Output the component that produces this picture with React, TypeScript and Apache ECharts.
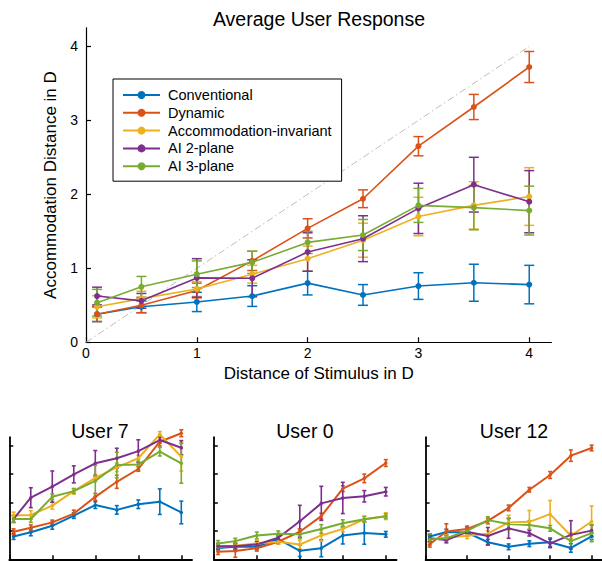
import React, { useEffect, useRef } from 'react';
import * as echarts from 'echarts';

// ---------- data ----------
const stimulus = [0.1, 0.5, 1, 1.5, 2, 2.5, 3, 3.5, 4];
const seriesNames = ['Conventional', 'Dynamic', 'Accommodation-invariant', 'AI 2-plane', 'AI 3-plane'];
const seriesColors = ['#0072BD', '#D95319', '#EDB120', '#7E2F8E', '#77AC30'];
const axisTicks = [0, 1, 2, 3, 4];
const diagonal = [[0, 0], [4, 4]];

// Average User Response
const avgConventional = [0.38, 0.48, 0.545, 0.625, 0.8, 0.64, 0.76, 0.805, 0.78];
const avgConventionalErr = [0.1, 0.08, 0.13, 0.14, 0.16, 0.14, 0.18, 0.25, 0.26];
const avgDynamic = [0.38, 0.5, 0.7, 1.1, 1.54, 1.94, 2.65, 3.18, 3.72];
const avgDynamicErr = [0.1, 0.1, 0.1, 0.13, 0.13, 0.12, 0.13, 0.17, 0.21];
const avgAccInv = [0.48, 0.59, 0.72, 0.92, 1.13, 1.38, 1.7, 1.85, 1.97];
const avgAccInvErr = [0.15, 0.1, 0.1, 0.12, 0.17, 0.23, 0.26, 0.32, 0.39];
const avgAI2 = [0.625, 0.56, 0.87, 0.865, 1.22, 1.4, 1.81, 2.13, 1.9];
const avgAI2Err = [0.12, 0.1, 0.26, 0.25, 0.26, 0.31, 0.34, 0.37, 0.42];
const avgAI3 = [0.535, 0.75, 0.92, 1.08, 1.35, 1.45, 1.85, 1.82, 1.78];
const avgAI3Err = [0.18, 0.14, 0.18, 0.15, 0.15, 0.21, 0.23, 0.3, 0.33];

// User 7
const u7Conventional = [0.8, 0.95, 1.18, 1.54, 1.91, 1.74, 1.94, 2.03, 1.65];
const u7ConventionalErr = [0.1, 0.12, 0.12, 0.1, 0.12, 0.15, 0.15, 0.45, 0.4];
const u7Dynamic = [0.97, 1.11, 1.3, 1.61, 2.2, 2.73, 3.18, 4.14, 4.44];
const u7DynamicErr = [0.1, 0.1, 0.08, 0.12, 0.12, 0.23, 0.08, 0.15, 0.12];
const u7AccInv = [1.54, 1.56, 1.89, 2.4, 2.87, 3.24, 3.56, 4.4, 3.61];
const u7AccInvErr = [0.12, 0.15, 0.12, 0.1, 0.12, 0.15, 0.1, 0.1, 0.5];
const u7AI2 = [1.42, 2.17, 2.56, 2.99, 3.38, 3.56, 3.81, 4.2, 3.93];
const u7AI2Err = [0.12, 0.35, 0.55, 0.3, 0.45, 0.35, 0.4, 0.1, 0.25];
const u7AI3 = [1.42, 1.42, 2.2, 2.4, 2.76, 3.32, 3.34, 3.79, 3.38];
const u7AI3Err = [0.12, 0.12, 0.1, 0.08, 0.55, 0.45, 0.2, 0.15, 0.7];

// User 0
const u0Conventional = [0.4, 0.44, 0.44, 0.71, 0.3, 0.39, 0.84, 0.93, 0.88];
const u0ConventionalErr = [0.1, 0.1, 0.1, 0.1, 0.2, 0.3, 0.3, 0.4, 0.1];
const u0Dynamic = [0.27, 0.29, 0.39, 0.62, 0.97, 1.52, 2.49, 2.85, 3.39];
const u0DynamicErr = [0.1, 0.22, 0.1, 0.08, 0.1, 0.1, 0.1, 0.15, 0.12];
const u0AccInv = [0.44, 0.48, 0.56, 0.62, 0.52, 0.84, 1.07, 1.41, 1.52];
const u0AccInvErr = [0.1, 0.1, 0.1, 0.08, 0.15, 0.2, 0.1, 0.1, 0.12];
const u0AI2 = [0.46, 0.46, 0.52, 0.76, 1.34, 1.97, 2.16, 2.22, 2.38];
const u0AI2Err = [0.1, 0.1, 0.1, 0.1, 0.56, 0.6, 0.55, 0.2, 0.15];
const u0AI3 = [0.56, 0.64, 0.84, 0.9, 0.88, 1.07, 1.27, 1.41, 1.52];
const u0AI3Err = [0.1, 0.1, 0.12, 0.1, 0.15, 0.15, 0.12, 0.1, 0.08];

// User 12
const u12Conventional = [0.8, 0.96, 0.94, 0.6, 0.44, 0.55, 0.6, 0.4, 0.81];
const u12ConventionalErr = [0.1, 0.1, 0.1, 0.1, 0.1, 0.1, 0.15, 0.15, 0.12];
const u12Dynamic = [0.53, 0.98, 1.07, 1.35, 1.81, 2.45, 2.97, 3.65, 3.92];
const u12DynamicErr = [0.1, 0.27, 0.1, 0.1, 0.1, 0.08, 0.12, 0.2, 0.1];
const u12AccInv = [0.71, 0.76, 0.83, 0.9, 1.3, 1.32, 1.59, 0.83, 1.33];
const u12AccInvErr = [0.1, 0.1, 0.1, 0.1, 0.25, 0.4, 0.48, 0.1, 0.55];
const u12AI2 = [0.74, 0.68, 0.97, 0.82, 1.09, 0.92, 0.56, 0.86, 1.01];
const u12AI2Err = [0.12, 0.1, 0.15, 0.3, 0.35, 0.1, 0.15, 0.5, 0.2];
const u12AI3 = [0.7, 0.74, 1.0, 1.38, 1.24, 1.21, 1.09, 0.64, 0.92];
const u12AI3Err = [0.2, 0.1, 0.1, 0.12, 0.2, 0.15, 0.1, 0.2, 0.3];

const panelTitles = ['Average User Response', 'User 7', 'User 0', 'User 12'];
const panelValues = [
  [avgConventional, avgDynamic, avgAccInv, avgAI2, avgAI3],
  [u7Conventional, u7Dynamic, u7AccInv, u7AI2, u7AI3],
  [u0Conventional, u0Dynamic, u0AccInv, u0AI2, u0AI3],
  [u12Conventional, u12Dynamic, u12AccInv, u12AI2, u12AI3],
];
const panelErrors = [
  [avgConventionalErr, avgDynamicErr, avgAccInvErr, avgAI2Err, avgAI3Err],
  [u7ConventionalErr, u7DynamicErr, u7AccInvErr, u7AI2Err, u7AI3Err],
  [u0ConventionalErr, u0DynamicErr, u0AccInvErr, u0AI2Err, u0AI3Err],
  [u12ConventionalErr, u12DynamicErr, u12AccInvErr, u12AI2Err, u12AI3Err],
];

const FONT = '"Liberation Sans", Arial, Helvetica, sans-serif';

function errorBars(panel: number, values: number[], errs: number[], color: string, cap: number, lw: number) {
  return {
    type: 'custom',
    xAxisIndex: panel,
    yAxisIndex: panel,
    silent: true,
    clip: false,
    encode: { x: 0, y: 1 },
    data: stimulus.map((x, k) => [x, values[k], errs[k]]),
    renderItem: (params: any, api: any) => {
      const x = api.value(0);
      const y = api.value(1);
      const e = api.value(2);
      const hi = api.coord([x, y + e]);
      const lo = api.coord([x, y - e]);
      const style = { stroke: color, lineWidth: lw, fill: 'none' };
      return {
        type: 'group',
        children: [
          { type: 'line', shape: { x1: hi[0], y1: hi[1], x2: lo[0], y2: lo[1] }, style },
          { type: 'line', shape: { x1: hi[0] - cap, y1: hi[1], x2: hi[0] + cap, y2: hi[1] }, style },
          { type: 'line', shape: { x1: lo[0] - cap, y1: lo[1], x2: lo[0] + cap, y2: lo[1] }, style },
        ],
      };
    },
  };
}

export default function App() {
  const ref = useRef<HTMLDivElement>(null);

  useEffect(() => {
    if (!ref.current) return;
    const chart = echarts.init(ref.current, undefined, { renderer: 'svg' });

    const grids = [
      { left: 86, top: 27.8, width: 465.4, height: 314.5 },
      { left: 9.3, top: 437.2, width: 182.75, height: 122.1 },
      { left: 213.8, top: 437.2, width: 182.75, height: 122.1 },
      { left: 425.6, top: 437.2, width: 182.75, height: 122.1 },
    ];

    const intLabel = (v: number) => (Math.abs(v - Math.round(v)) < 1e-6 ? String(Math.round(v)) : '');

    const xAxes: any[] = [];
    const yAxes: any[] = [];
    grids.forEach((g, p) => {
      const main = p === 0;
      const axisLine = { show: true, onZero: false, lineStyle: { color: '#000', width: main ? 1.2 : 1.8 } };
      const axisTick = { show: true, inside: true, length: main ? 5 : 4, customValues: axisTicks, lineStyle: { color: '#000', width: main ? 1.2 : 1.5 } };
      xAxes.push({
        type: 'value',
        gridIndex: p,
        min: 0,
        max: main ? 4.2 : 4.25,
        interval: 1,
        name: main ? 'Distance of Stimulus in D' : '',
        nameLocation: 'middle',
        nameGap: 22.5,
        nameTextStyle: { fontSize: 17, color: '#000', fontFamily: FONT },
        axisLine,
        axisTick,
        axisLabel: main
          ? { show: true, fontSize: 14, color: '#000', margin: 4, fontFamily: FONT, customValues: axisTicks, formatter: intLabel }
          : { show: false },
        splitLine: { show: false },
      });
      yAxes.push({
        type: 'value',
        gridIndex: p,
        min: 0,
        max: main ? 4.25 : 4.3,
        interval: 1,
        name: main ? 'Accommodation Distance in D' : '',
        nameLocation: 'middle',
        nameRotate: 90,
        nameGap: 22.5,
        nameTextStyle: { fontSize: 17, color: '#000', fontFamily: FONT },
        axisLine,
        axisTick,
        axisLabel: main
          ? { show: true, fontSize: 14, color: '#000', margin: 8, fontFamily: FONT, customValues: axisTicks, formatter: intLabel }
          : { show: false },
        splitLine: { show: false },
      });
    });

    const series: any[] = [];
    series.push({
      type: 'line',
      name: 'y = x',
      xAxisIndex: 0,
      yAxisIndex: 0,
      data: diagonal,
      symbol: 'none',
      silent: true,
      z: 1,
      lineStyle: { color: '#bdbdbd', width: 1, type: [7, 3, 1.5, 3] },
    });

    panelValues.forEach((vals, p) => {
      const main = p === 0;
      vals.forEach((v, i) => {
        const color = seriesColors[i];
        series.push(errorBars(p, v, panelErrors[p][i], color, main ? 5 : 2, main ? 1.5 : 1.6));
        series.push({
          type: 'line',
          name: seriesNames[i],
          xAxisIndex: p,
          yAxisIndex: p,
          data: stimulus.map((x, k) => [x, v[k]]),
          symbol: 'circle',
          symbolSize: main ? 6 : 3.5,
          clip: false,
          color,
          itemStyle: { color },
          lineStyle: { color, width: main ? 1.6 : 2 },
          emphasis: { disabled: true },
        });
      });
    });

    const titleTops = [9, 420.5, 420.5, 420.5];
    const titleCenters = [319, 100, 305, 514];

    chart.setOption({
      animation: false,
      textStyle: { fontFamily: FONT },
      title: panelTitles.map((t, p) => ({
        text: t,
        left: titleCenters[p],
        top: titleTops[p],
        textAlign: 'center',
        padding: 0,
        textStyle: { fontSize: 19.5, fontWeight: 'normal', color: '#000', fontFamily: FONT },
      })),
      legend: {
        data: seriesNames,
        left: 113,
        top: 79,
        orient: 'vertical',
        padding: [8.5, 10, 7.5, 9],
        itemWidth: 37,
        itemHeight: 10,
        itemGap: 2.8,
        borderColor: '#000',
        borderWidth: 1,
        borderRadius: 0,
        backgroundColor: '#fff',
        selectedMode: false,
        textStyle: { fontSize: 14.5, color: '#000', fontFamily: FONT, padding: [0, 0, 0, 3] },
      },
      grid: grids,
      xAxis: xAxes,
      yAxis: yAxes,
      series,
    });

    return () => chart.dispose();
  }, []);

  return <div ref={ref} style={{ position: 'fixed', left: 0, top: 0, width: 602, height: 561, background: '#fff' }} />;
}
